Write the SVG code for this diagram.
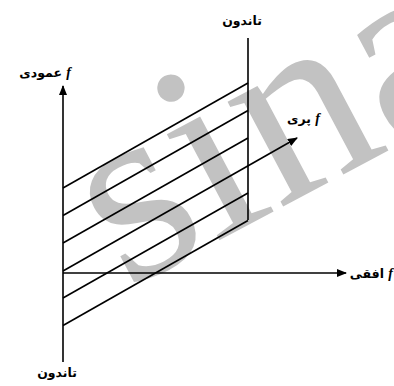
<svg xmlns="http://www.w3.org/2000/svg" width="394" height="386" viewBox="0 0 394 386">
<defs>
<style>
.ln{stroke:#000;stroke-width:1.6;fill:none}
.lb{font-family:"DejaVu Sans","Noto Sans",sans-serif;font-weight:bold;font-size:12.5px;fill:#000}
.f{font-family:"Liberation Serif",serif;font-style:italic;font-weight:bold;font-size:14px}
.wm{font-family:"Liberation Serif",serif;font-size:258px;fill:#c2c2c2}
</style>
<marker id="ah" viewBox="0 0 10 8" refX="9" refY="4" markerWidth="10" markerHeight="8" markerUnits="userSpaceOnUse" orient="auto">
<path d="M0,0 L10,4 L0,8 Z" fill="#000"/>
</marker>
</defs>
<rect width="394" height="386" fill="#fff"/>
<text class="wm" transform="translate(126,290) rotate(-28)">sina</text>
<g id="connectors">
<line class="ln" x1="63" y1="362" x2="63" y2="86" marker-end="url(#ah)"/>
<line class="ln" x1="63" y1="273" x2="346" y2="273" marker-end="url(#ah)"/>
<line class="ln" x1="63" y1="271" x2="297" y2="138" marker-end="url(#ah)"/>
<line class="ln" x1="248" y1="38" x2="248" y2="220"/>
<line class="ln" x1="63" y1="188" x2="248" y2="83"/>
<line class="ln" x1="63" y1="215.5" x2="248" y2="110.5"/>
<line class="ln" x1="63" y1="243" x2="248" y2="138"/>
<line class="ln" x1="63" y1="298" x2="248" y2="193"/>
<line class="ln" x1="63" y1="325.5" x2="248" y2="220.5"/>
</g>
<g id="label-tendon-top"><text class="lb" x="242" y="25" text-anchor="middle">تاندون</text></g>
<g id="label-vertical"><text class="lb" x="71" y="77" text-anchor="end">عمودی <tspan class="f">f</tspan></text></g>
<g id="label-pennate"><text class="lb" x="320" y="123" text-anchor="end">پری <tspan class="f">f</tspan></text></g>
<g id="label-horizontal"><text class="lb" x="393" y="278" text-anchor="end">افقی <tspan class="f">f</tspan></text></g>
<g id="label-tendon-bottom"><text class="lb" x="57" y="377" text-anchor="middle">تاندون</text></g>
</svg>
